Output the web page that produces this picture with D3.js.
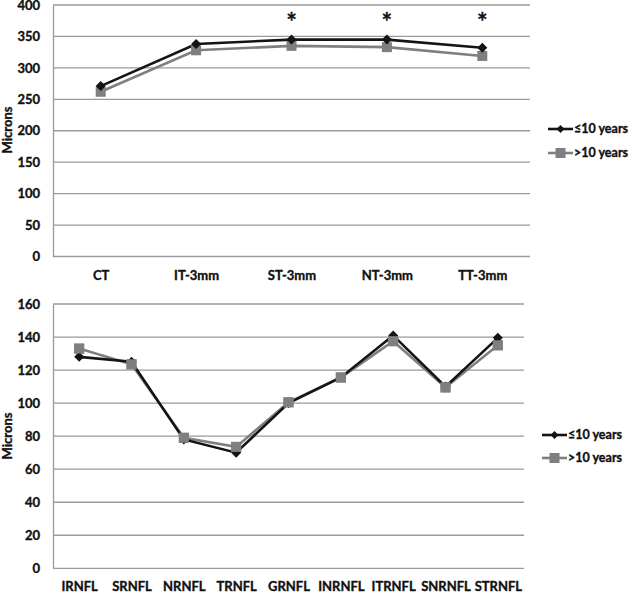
<!DOCTYPE html>
<html><head><meta charset="utf-8">
<script src="https://cdn.jsdelivr.net/npm/d3@7"></script>
<style>body{margin:0;background:#fff;} text{font-family:Lato,"Liberation Sans",sans-serif;font-weight:bold;stroke:#111;stroke-width:0.35px;}</style>
</head><body>
<svg id="c" width="632" height="593"></svg>
<script>
// Top chart data
const topCats = ["CT","IT-3mm","ST-3mm","NT-3mm","TT-3mm"];
const topLe10 = [271, 338, 345, 345, 332];
const topGt10 = [262, 328, 335, 333, 319];
const topStars = ["ST-3mm","NT-3mm","TT-3mm"];
const topTicks = [0,50,100,150,200,250,300,350,400];
// Bottom chart data
const botCats = ["IRNFL","SRNFL","NRNFL","TRNFL","GRNFL","INRNFL","ITRNFL","SNRNFL","STRNFL"];
const botLe10 = [128, 125, 78, 70, 100, 115.5, 141, 110, 139.5];
const botGt10 = [133, 123.5, 79, 73.5, 100.5, 115.5, 137.5, 109.5, 135];
const botTicks = [0,20,40,60,80,100,120,140,160];
const seriesNames = ["≤10 years", ">10 years"];
const colors = ["#141414", "#7f7f7f"];
const FONT = "Lato, 'Liberation Sans', sans-serif";

const svg = d3.select("#c");
const diamondPath = r => `M0,${-r}L${r},0L0,${r}L${-r},0Z`;

function panel(cfg){
  const g = svg.append("g");
  const x = d3.scalePoint().domain(cfg.cats).range([cfg.left, cfg.right]).padding(0.5);
  const y = d3.scaleLinear().domain([0, cfg.max]).range([cfg.bottom, cfg.top]);
  g.append("g").selectAll("line").data(cfg.ticks).join("line")
    .attr("x1", cfg.left).attr("x2", cfg.right)
    .attr("y1", d=>y(d)).attr("y2", d=>y(d))
    .attr("stroke", "#9a9a9a").attr("stroke-width", 1.3);
  const ya = g.append("g").attr("transform", `translate(${cfg.left},0)`)
    .call(d3.axisLeft(y).tickValues(cfg.ticks).tickSize(0).tickPadding(13));
  ya.select(".domain").attr("stroke", "#9a9a9a").attr("stroke-width", 1.3);
  ya.selectAll("text").attr("font-size", 13).attr("fill", "#111").attr("font-family", FONT).attr("font-weight", "bold");
  const xa = g.append("g").attr("transform", `translate(0,${cfg.bottom})`)
    .call(d3.axisBottom(x).tickSize(0).tickPadding(cfg.xPad));
  xa.select(".domain").remove();
  xa.selectAll("text").attr("font-size", 13).attr("fill", "#111").attr("font-family", FONT).attr("font-weight", "bold");
  g.append("text").attr("transform", `translate(12,${cfg.labelY}) rotate(-90)`)
    .attr("text-anchor","middle").attr("font-size", 13).attr("fill","#111").text("Microns");
  const line = d3.line().x((d,i)=>x(cfg.cats[i])).y(d=>y(d));
  [[cfg.s1,1],[cfg.s0,0]].forEach(([s, idx])=>{
    g.append("path").datum(s).attr("d", line).attr("fill","none")
      .attr("stroke", colors[idx]).attr("stroke-width", 2.6);
  });
  g.append("g").selectAll("rect").data(cfg.s1).join("rect")
    .attr("x",(d,i)=>x(cfg.cats[i])-5).attr("y",d=>y(d)-5)
    .attr("width",10).attr("height",10).attr("fill",colors[1]);
  g.append("g").selectAll("path").data(cfg.s0).join("path")
    .attr("d", diamondPath(5)).attr("transform",(d,i)=>`translate(${x(cfg.cats[i])},${y(d)})`)
    .attr("fill", colors[0]);
  if (cfg.squaresOnTop){
    g.append("g").selectAll("rect").data(cfg.s1).join("rect")
      .attr("x",(d,i)=>x(cfg.cats[i])-5).attr("y",d=>y(d)-5)
      .attr("width",10).attr("height",10).attr("fill",colors[1]);
  }
  if (cfg.stars){
    g.append("g").selectAll("text").data(cfg.stars).join("text")
      .attr("x", d=>x(d)).attr("y", cfg.starY).attr("text-anchor","middle")
      .attr("font-size", 25).attr("fill","#111").text("*");
  }
  const lg = g.append("g");
  seriesNames.forEach((n, i)=>{
    const ly = cfg.legY + i*cfg.legGap;
    lg.append("line").attr("x1", cfg.legX).attr("x2", cfg.legX+25).attr("y1", ly).attr("y2", ly)
      .attr("stroke", colors[i]).attr("stroke-width", 2.6);
    if (i===0) lg.append("path").attr("d", diamondPath(4))
      .attr("transform", `translate(${cfg.legX+12.5},${ly})`).attr("fill", colors[0]);
    else lg.append("rect").attr("x", cfg.legX+12.5-5).attr("y", ly-5).attr("width",10).attr("height",10).attr("fill", colors[1]);
    lg.append("text").attr("x", cfg.legX+26).attr("y", ly).attr("dy","0.35em")
      .attr("font-size", 12.5).attr("fill","#111").text(n);
  });
}

panel({cats: topCats, s0: topLe10, s1: topGt10, ticks: topTicks, max: 400,
  left: 53, right: 530, top: 5, bottom: 256.5, xPad: 14, labelY: 130,
  stars: topStars, starY: 31, legX: 548, legY: 129, legGap: 24});
panel({cats: botCats, s0: botLe10, s1: botGt10, ticks: botTicks, max: 160,
  left: 53, right: 524, top: 304, bottom: 568.3, xPad: 13, labelY: 436,
  squaresOnTop: true, legX: 542, legY: 435, legGap: 23});
</script>
</body></html>
